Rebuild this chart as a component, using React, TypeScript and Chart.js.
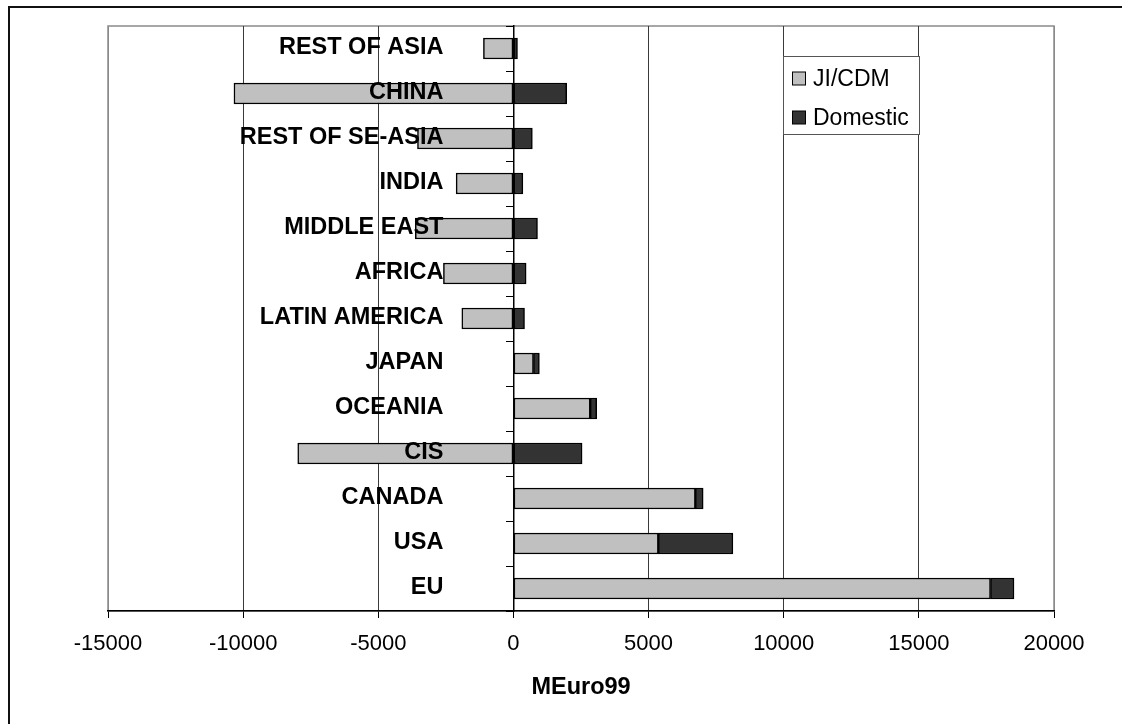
import React, { useEffect, useRef } from "react";
import { Chart, registerables } from "chart.js";

Chart.register(...registerables);

// Regions, top to bottom
const categories = [
  "REST OF ASIA",
  "CHINA",
  "REST OF SE-ASIA",
  "INDIA",
  "MIDDLE EAST",
  "AFRICA",
  "LATIN AMERICA",
  "JAPAN",
  "OCEANIA",
  "CIS",
  "CANADA",
  "USA",
  "EU",
];

// MEuro99 per region
const jiCdm = [-1110, -10340, -3550, -2120, -3630, -2590, -1910, 740, 2840, -7980, 6730, 5360, 17650];
const domestic = [150, 1970, 700, 350, 890, 470, 410, 220, 240, 2540, 290, 2760, 870];

const seriesNames = ["JI/CDM", "Domestic"];
const seriesColors = ["#c0c0c0", "#333333"];

const axisMin = -15000;
const axisMax = 20000;
const axisStep = 5000;
const axisTitle = "MEuro99";

const FONT = '"Liberation Sans", Arial, Helvetica, sans-serif';

// Gray frame around the plotting area (bottom edge is covered by the x axis line)
const plotFramePlugin = {
  id: "plotFrame",
  beforeDraw(chart: any) {
    const { ctx, chartArea } = chart;
    ctx.save();
    ctx.strokeStyle = "#8a8a8a";
    ctx.lineWidth = 1.5;
    ctx.strokeRect(chartArea.left, chartArea.top, chartArea.right - chartArea.left, chartArea.bottom - chartArea.top);
    ctx.restore();
  },
};

// Region names set just left of the zero line, drawn over the bars
const regionLabelPlugin = {
  id: "regionLabels",
  afterDatasetsDraw(chart: any) {
    const { ctx } = chart;
    const xScale = chart.scales.x;
    const yScale = chart.scales.y;
    const xRight = xScale.getPixelForValue(0) - 70;
    ctx.save();
    ctx.font = `bold 23.5px ${FONT}`;
    ctx.fillStyle = "#000";
    ctx.textAlign = "right";
    ctx.textBaseline = "middle";
    (chart.data.labels as string[]).forEach((label, i) => {
      ctx.fillText(label, xRight, yScale.getPixelForValue(i) - 0.5);
    });
    ctx.restore();
  },
};

// Boxed legend inside the plotting area
const boxLegendPlugin = {
  id: "boxLegend",
  afterDraw(chart: any) {
    const { ctx } = chart;
    const left = 783.5;
    const top = 56.5;
    const width = 136;
    const height = 78;
    ctx.save();
    ctx.fillStyle = "#fff";
    ctx.fillRect(left, top, width, height);
    ctx.strokeStyle = "#555";
    ctx.lineWidth = 1;
    ctx.strokeRect(left, top, width, height);
    ctx.font = `23px ${FONT}`;
    ctx.textAlign = "left";
    ctx.textBaseline = "middle";
    chart.data.datasets.forEach((ds: any, i: number) => {
      const cy = top + 22 + i * 39;
      ctx.fillStyle = ds.backgroundColor;
      ctx.fillRect(792.5, cy - 6.5, 13, 13);
      ctx.strokeStyle = "#000";
      ctx.lineWidth = 1;
      ctx.strokeRect(792.5, cy - 6.5, 13, 13);
      ctx.fillStyle = "#000";
      ctx.fillText(ds.label, 813, cy + 1);
    });
    ctx.restore();
  },
};

export default function App() {
  const canvasRef = useRef<HTMLCanvasElement | null>(null);

  useEffect(() => {
    const canvas = canvasRef.current;
    if (!canvas) return;
    const chart = new Chart(canvas, {
      type: "bar",
      data: {
        labels: categories,
        datasets: [
          {
            label: seriesNames[0],
            data: jiCdm,
            backgroundColor: seriesColors[0],
            borderColor: "#000",
            borderWidth: 1.5,
            borderSkipped: false,
            barThickness: 21,
          },
          {
            label: seriesNames[1],
            data: domestic,
            backgroundColor: seriesColors[1],
            borderColor: "#000",
            borderWidth: 1.5,
            borderSkipped: false,
            barThickness: 21,
          },
        ],
      },
      options: {
        indexAxis: "y",
        responsive: false,
        animation: false,
        devicePixelRatio: 1,
        layout: { padding: { left: 108, right: 68, top: 26, bottom: 0 } },
        plugins: {
          legend: { display: false },
          tooltip: { enabled: false },
        },
        scales: {
          x: {
            type: "linear",
            stacked: true,
            min: axisMin,
            max: axisMax,
            ticks: {
              stepSize: axisStep,
              color: "#000",
              padding: 13,
              maxRotation: 0,
              font: { family: FONT, size: 22 },
              callback: (v: any) => String(v),
            },
            grid: {
              color: (c: any) =>
                c.tick && (c.tick.value === axisMin || c.tick.value === axisMax) ? "#8a8a8a" : "#3a3a3a",
              lineWidth: 1,
              drawTicks: true,
              tickLength: 7,
              tickColor: "#000",
            },
            border: { display: true, color: "#000", width: 1.5 },
            title: {
              display: true,
              text: axisTitle,
              color: "#000",
              font: { family: FONT, size: 23.5, weight: "bold" },
              padding: { top: 0, bottom: 22 },
            },
            afterFit: (scale: any) => {
              scale.height = 113;
            },
          },
          y: {
            type: "category",
            stacked: true,
            position: { x: 0 },
            ticks: { display: false },
            grid: {
              drawOnChartArea: false,
              drawTicks: true,
              tickLength: 7,
              color: "#000",
              tickColor: "#000",
              offset: true,
            },
            border: { display: true, color: "#000", width: 1.5 },
          },
        },
      } as any,
      plugins: [plotFramePlugin, regionLabelPlugin, boxLegendPlugin],
    });
    return () => chart.destroy();
  }, []);

  return (
    <div
      style={{
        position: "absolute",
        left: 0,
        top: 0,
        width: 1122,
        height: 724,
        overflow: "hidden",
        background: "#fff",
      }}
    >
      <div
        style={{
          position: "absolute",
          left: 8,
          top: 6,
          width: 2000,
          height: 2000,
          borderTop: "2px solid #111",
          borderLeft: "2px solid #111",
        }}
      />
      <canvas
        ref={canvasRef}
        width={1122}
        height={724}
        style={{ position: "absolute", left: 0, top: 0, width: 1122, height: 724 }}
      />
    </div>
  );
}
